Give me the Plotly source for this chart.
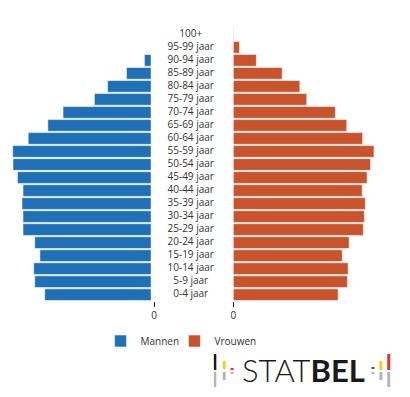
import plotly.graph_objects as go

categories = ["0-4 jaar", "5-9 jaar", "10-14 jaar", "15-19 jaar", "20-24 jaar",
              "25-29 jaar", "30-34 jaar", "35-39 jaar", "40-44 jaar", "45-49 jaar",
              "50-54 jaar", "55-59 jaar", "60-64 jaar", "65-69 jaar", "70-74 jaar",
              "75-79 jaar", "80-84 jaar", "85-89 jaar", "90-94 jaar", "95-99 jaar", "100+"]
mannen = [317, 346, 349, 331, 346, 380, 380, 383, 380, 396,
          409, 410, 365, 308, 264, 173, 135, 80, 28, 5, 0.3]
vrouwen = [304, 331, 333, 316, 336, 377, 380, 383, 374, 388,
           398, 408, 375, 329, 296, 213, 193, 142, 67, 18, 1.2]
middle_x = [0] * len(categories)

BLUE = "#1F70B6"
ORANGE = "#C8532D"
W, H = 410, 397
font = dict(family="Open Sans, Noto Sans, sans-serif", size=10, color="#333333")

fig = go.Figure()
fig.add_trace(go.Bar(y=categories, x=mannen, orientation="h", name="Mannen",
                     marker=dict(color=BLUE, line=dict(color="rgba(255,255,255,0.55)", width=1)),
                     xaxis="x", yaxis="y", hoverinfo="x", legend="legend"))
fig.add_trace(go.Bar(y=categories, x=vrouwen, orientation="h", name="Vrouwen",
                     marker=dict(color=ORANGE, line=dict(color="rgba(255,255,255,0.55)", width=1)),
                     xaxis="x2", yaxis="y", hoverinfo="x", legend="legend2"))
fig.add_trace(go.Scatter(y=categories, x=middle_x, mode="text", text=categories,
                         textfont=font, textposition="middle center",
                         xaxis="x3", yaxis="y", showlegend=False, hoverinfo="skip"))

ydom = [1 - 301.2 / H, 1 - 27.8 / H]
scale = 143.5 / 410.0
legend_font = dict(family="Open Sans, Noto Sans, sans-serif", size=10, color="#333333")
fig.update_layout(
    width=W, height=H,
    margin=dict(l=0, r=0, t=0, b=0),
    paper_bgcolor="white", plot_bgcolor="white",
    font=font,
    bargap=0.1,
    showlegend=True,
    legend=dict(orientation="h", x=99 / W, xanchor="left", y=1 - 341 / H, yanchor="middle",
                font=legend_font, bgcolor="rgba(0,0,0,0)"),
    legend2=dict(orientation="h", x=174 / W, xanchor="left", y=1 - 341 / H, yanchor="middle",
                 font=legend_font, bgcolor="rgba(0,0,0,0)"),
    yaxis=dict(domain=ydom, type="category", categoryorder="array", categoryarray=categories,
               range=[-0.5, 20.5], showticklabels=False, showgrid=False, zeroline=False,
               showline=False, ticks=""),
    xaxis=dict(domain=[0, 153.3 / W], range=[153.3 / scale, 0], anchor="y",
               tickvals=[0], ticktext=["0"], ticks="outside", ticklen=5, tickcolor="#222",
               showgrid=False, zeroline=False, showline=False),
    xaxis2=dict(domain=[233.7 / W, 1], range=[0, (W - 233.7) / scale], anchor="y",
                tickvals=[0], ticktext=["0"], ticks="outside", ticklen=5, tickcolor="#222",
                showgrid=False, zeroline=False, showline=False),
    xaxis3=dict(domain=[150 / W, 231 / W], range=[-1, 1], anchor="y", visible=False),
)

# STATBEL logo
def rect(x0, y0, x1, y1, color):
    fig.add_shape(type="rect", xref="paper", yref="paper",
                  x0=x0 / W, x1=x1 / W, y0=1 - y1 / H, y1=1 - y0 / H,
                  fillcolor=color, line=dict(width=0), layer="above")

GRAY = "#B5B5B5"
DARK = "#1A1A1A"
YEL = "#F2CF1A"
RED = "#E2302A"
rect(214, 354, 216.5, 370, DARK); rect(214, 372, 216.5, 387, GRAY)
rect(223, 361, 226, 369, YEL); rect(223, 372, 226, 380, GRAY)
rect(231, 368, 234, 370, RED); rect(231, 372, 234, 374, GRAY)
rect(374, 367, 377, 369, "#555555"); rect(374, 372, 377, 374, GRAY)
rect(382, 361, 385, 370, YEL); rect(382, 372, 385, 380, GRAY)
rect(390, 354, 393, 370, RED); rect(390, 372, 393, 387, GRAY)

fig.add_annotation(xref="paper", yref="paper", x=241 / W, y=1 - 370 / H,
                   xanchor="left", yanchor="middle", showarrow=False,
                   text="STAT<b>BEL</b>",
                   font=dict(family="Lato, Open Sans, sans-serif", size=31, color="#1A1A1A", weight=300))

fig.write_html("out.html", config={"displayModeBar": False},
               post_script="document.body.style.margin='0';")
